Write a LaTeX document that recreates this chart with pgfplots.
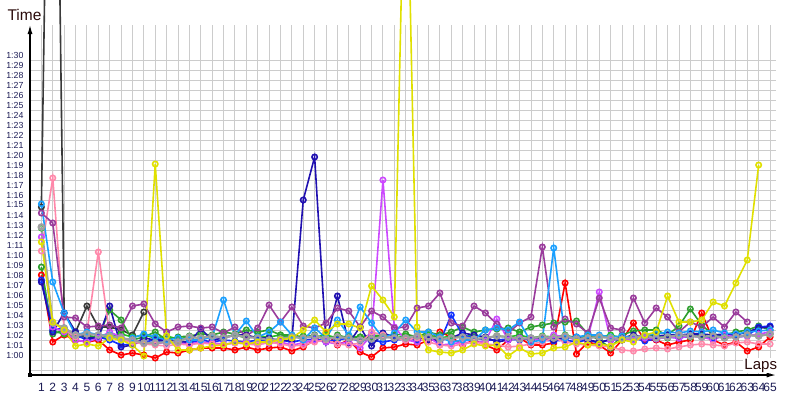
\documentclass[border=0pt]{standalone}
\usepackage{pgfplots}
\pgfplotsset{compat=1.18}
\usepackage{pgfplotstable}
\usepackage{fontspec}
\setmainfont{Liberation Sans}
\usetikzlibrary{arrows.meta}
\definecolor{cred}{HTML}{FF0000}
\definecolor{cnavy}{HTML}{2010B0}
\definecolor{cblue}{HTML}{1030FF}
\definecolor{clblue}{HTML}{1AA0FF}
\definecolor{cyellow}{HTML}{E0E000}
\definecolor{cgreen}{HTML}{2F9F2F}
\definecolor{cgreenb}{HTML}{22C022}
\definecolor{cpurple}{HTML}{9A3C9C}
\definecolor{cviolet}{HTML}{CC48FF}
\definecolor{cpink}{HTML}{FF88AA}
\definecolor{cgray}{HTML}{A0A0A0}
\definecolor{cblack}{HTML}{3A3A3A}
\definecolor{ctick}{HTML}{1C1C55}
\definecolor{ctitle}{HTML}{2A0A0A}
\pgfplotstableread{
lap red navy blue lblue yellow green greenb purple violet pink gray black
1 68.5 67.8 68.0 75.6 71.8 69.3 73.2 74.7 72.3 70.9 73.3 75.3
2 61.8 62.8 63.0 67.8 63.8 62.6 62.9 73.7 63.3 78.2 63.7 150
3 62.5 64.7 63.2 64.7 63.0 63.0 62.6 64.3 62.8 63.0 63.2 64.7
4 62.0 62.8 62.5 62.5 61.4 62.2 62.3 64.2 62.0 62.3 62.5 62.8
5 61.8 62.2 62.0 62.8 61.6 62.4 62.5 63.3 61.8 62.8 62.6 65.4
6 62.0 62.2 62.3 62.5 61.4 62.3 62.2 63.4 62.2 70.8 62.5 63.3
7 61.0 65.4 62.0 62.5 62.2 65.0 62.4 63.5 62.8 62.5 62.4 63.3
8 60.5 61.3 61.5 62.0 62.0 64.0 62.6 63.2 62.3 62.0 62.2 63.0
9 60.7 61.5 61.6 62.2 61.5 62.0 62.3 65.4 61.8 61.8 62.0 62.5
10 60.5 62.2 61.8 62.6 60.4 62.3 62.5 65.6 61.7 61.6 61.7 64.8
11 60.2 62.0 62.0 62.3 79.6 62.8 62.2 63.6 61.6 61.5 61.7 nan
12 60.8 62.0 61.7 62.0 62.4 62.0 62.4 62.8 61.8 61.4 61.8 nan
13 60.7 61.8 61.8 62.2 61.0 62.3 62.1 63.3 61.7 61.6 61.8 nan
14 61.0 61.8 61.7 62.0 61.0 62.4 62.3 63.4 61.6 61.5 62.3 nan
15 61.2 63.1 62.0 62.0 61.2 62.6 62.2 63.2 61.8 61.7 62.2 nan
16 61.2 62.0 61.8 62.3 61.4 62.5 62.4 63.3 61.7 61.6 62.4 nan
17 61.2 62.2 62.0 66.0 61.5 62.8 62.3 62.7 61.6 61.5 62.2 nan
18 61.0 62.5 61.9 62.5 61.8 62.6 62.5 63.3 61.7 61.7 62.5 nan
19 61.3 62.5 61.8 63.9 61.6 63.0 62.2 62.4 61.8 61.6 62.3 nan
20 61.0 62.2 62.0 62.3 61.8 62.8 62.4 63.2 61.6 61.5 62.2 nan
21 61.2 62.2 61.9 62.8 61.8 63.0 62.3 65.5 61.7 61.8 62.0 nan
22 61.3 61.9 62.0 63.8 62.0 62.5 62.5 63.8 61.8 61.6 62.1 nan
23 60.9 62.0 61.8 62.5 62.2 62.5 62.2 65.3 61.5 61.4 62.3 nan
24 61.3 76.0 62.0 62.0 63.0 62.3 62.4 63.4 61.7 61.5 62.2 nan
25 62.0 80.3 62.1 63.2 64.0 62.5 62.3 63.2 62.0 61.8 62.4 nan
26 62.7 61.8 61.9 62.2 62.8 62.0 62.5 63.7 61.8 62.0 62.1 nan
27 61.5 66.4 62.0 64.0 63.6 62.5 62.2 65.2 61.6 61.6 62.3 nan
28 62.0 61.7 62.2 62.5 63.6 62.2 62.4 64.9 61.8 61.5 62.2 nan
29 60.8 63.3 61.9 65.3 63.2 62.3 62.3 63.3 61.2 61.7 62.0 nan
30 60.3 61.4 62.0 63.7 67.4 62.3 62.5 64.9 62.5 62.8 62.1 nan
31 61.2 62.7 61.8 62.2 66.0 62.5 62.4 64.3 78.0 62.5 62.3 nan
32 61.3 62.3 62.0 62.7 64.3 62.5 62.2 63.2 63.3 62.2 62.2 nan
33 61.6 62.0 62.1 64.0 117 62.6 62.4 63.3 62.0 62.0 62.2 nan
34 61.5 62.2 62.0 62.8 63.3 62.3 62.3 65.2 61.8 62.2 62.4 nan
35 62.0 62.0 62.2 62.8 61.0 62.8 62.5 65.4 62.3 61.8 62.3 nan
36 62.8 62.0 61.8 62.3 60.8 62.5 62.2 66.7 61.5 61.5 62.1 nan
37 62.3 62.2 64.5 61.8 60.7 62.8 62.4 63.7 61.6 61.4 62.2 nan
38 61.5 62.7 62.5 62.0 61.0 63.3 62.3 63.4 61.8 61.6 62.3 nan
39 62.0 62.5 62.2 62.0 61.6 62.8 62.5 65.4 61.7 61.8 62.1 nan
40 61.5 62.3 62.0 63.0 61.4 63.0 62.2 64.7 61.9 61.6 62.2 nan
41 61.0 61.8 62.0 63.2 61.5 63.1 62.4 63.6 64.1 61.5 62.4 nan
42 62.0 62.0 62.1 63.0 60.4 63.2 62.3 62.7 62.0 61.3 62.3 nan
43 62.2 62.2 62.0 63.8 61.2 62.8 62.5 63.7 62.2 61.4 62.1 nan
44 61.5 62.0 62.2 61.8 60.6 63.3 62.2 64.3 62.1 61.6 62.2 nan
45 61.5 62.2 62.0 62.0 60.7 63.5 62.4 71.3 62.0 61.8 62.3 nan
46 61.7 62.0 61.9 71.2 61.2 63.7 62.3 63.3 62.5 62.2 62.2 nan
47 67.7 62.2 62.0 62.2 61.3 63.8 62.5 64.1 62.3 61.8 62.4 nan
48 60.6 62.3 61.8 62.3 61.8 63.9 62.2 63.6 62.0 61.6 62.1 nan
49 61.8 62.0 62.0 62.5 61.5 62.6 62.4 62.7 62.2 61.5 62.2 nan
50 61.5 61.8 61.7 62.5 61.6 62.0 62.3 66.2 66.8 61.4 62.3 nan
51 60.7 62.0 62.1 62.3 61.4 61.2 62.5 63.2 62.0 61.3 62.2 nan
52 62.0 62.2 62.0 62.4 62.0 62.5 62.2 63.0 62.1 61.0 62.1 nan
53 63.7 62.5 62.2 62.2 61.8 62.9 62.4 66.2 62.0 60.9 62.3 nan
54 62.0 62.3 61.9 62.5 62.5 63.0 62.3 63.7 62.2 61.1 62.4 nan
55 62.0 62.4 62.1 62.6 62.8 63.0 62.5 65.2 62.1 61.2 62.2 nan
56 61.5 62.5 62.3 62.8 66.4 62.5 62.2 64.3 62.3 61.1 62.3 nan
57 61.8 62.5 62.2 62.7 63.8 63.4 62.4 62.8 62.2 61.3 62.5 nan
58 62.0 62.6 62.4 62.9 63.8 65.1 62.3 63.8 62.4 61.5 62.4 nan
59 64.7 62.6 62.3 62.8 64.0 63.5 62.5 63.3 62.3 61.6 62.3 nan
60 62.0 62.5 62.2 63.0 65.8 62.5 62.2 64.3 62.0 61.5 62.4 nan
61 61.5 62.6 62.5 62.7 65.4 62.5 62.4 63.3 62.5 61.4 62.2 nan
62 61.8 62.5 62.3 62.6 67.7 62.8 62.3 64.8 62.3 61.7 62.3 nan
63 60.9 62.8 62.4 62.8 70.0 63.0 62.5 63.8 62.4 61.8 62.5 nan
64 61.3 63.2 63.3 62.9 79.5 63.4 62.4 nan 62.6 61.6 62.4 nan
65 62.3 63.3 63.4 63.0 nan 63.0 62.6 nan 62.8 61.6 62.6 nan
}\laps
\begin{document}
\begin{tikzpicture}
\begin{axis}[
  x=11.385pt, y=10pt,
  xmin=0, xmax=65.5, ymin=58.5, ymax=93.5,
  axis lines=left,
  axis line style={line width=1.1pt, -{Latex[length=9pt,width=5pt]}},
  grid=major,
  grid style={draw=black!20, line width=0.9pt},
  xtick={1,...,65},
  ytick={59,...,90},
  yticklabels={,1:00,1:01,1:02,1:03,1:04,1:05,1:06,1:07,1:08,1:09,1:10,1:11,1:12,1:13,1:14,1:15,1:16,1:17,1:18,1:19,1:20,1:21,1:22,1:23,1:24,1:25,1:26,1:27,1:28,1:29,1:30},
  major tick length=0pt,
  clip=false,
  /pgf/number format/assume math mode=true,
  xticklabel style={font=\fontsize{12}{12}\selectfont, text=ctick, anchor=base, yshift=-16.5pt, inner sep=0pt},
  yticklabel style={font=\fontsize{8.8}{9}\selectfont, text=ctick, anchor=east, yshift=5pt, xshift=-3pt},
  every axis plot/.append style={line width=1.6pt, mark=o, mark size=2.7pt,
     mark options={solid, fill=white, line width=0.9pt}},
]
\addplot[color=cblack, mark options={fill=white}] table[x=lap, y=black] {\laps};
\addplot[color=cred, mark options={fill=white}] table[x=lap, y=red] {\laps};
\addplot[color=cgreenb, mark options={fill=white}] table[x=lap, y=greenb] {\laps};
\addplot[color=cgreen, mark options={fill=white}] table[x=lap, y=green] {\laps};
\addplot[color=cblue, mark options={fill=white}] table[x=lap, y=blue] {\laps};
\addplot[color=cnavy, mark options={fill=white}] table[x=lap, y=navy] {\laps};
\addplot[color=cviolet, mark options={fill=white}] table[x=lap, y=violet] {\laps};
\addplot[color=cpink, mark options={fill=white}] table[x=lap, y=pink] {\laps};
\addplot[color=cpurple, mark options={fill=white}] table[x=lap, y=purple] {\laps};
\addplot[color=clblue, mark options={fill=white}] table[x=lap, y=lblue] {\laps};
\addplot[color=cgray, line width=2.2pt, mark options={fill=white}] table[x=lap, y=gray] {\laps};
\addplot[color=cyellow, mark options={fill=white}] table[x=lap, y=yellow] {\laps};
\node[anchor=base west, inner sep=0pt, text=ctitle, font=\fontsize{15.5}{16}\selectfont] at (axis cs:-1.99,93.93) {Time};
\node[anchor=base west, inner sep=1pt, fill=white, text=ctitle, font=\fontsize{15}{16}\selectfont] at (axis cs:62.65,59.07) {Laps};
\fill[black] (axis cs:-0.15,58.33) rectangle (axis cs:0.15,58.67);
\coordinate (bbl) at (axis cs:-2.635,56.0);
\coordinate (btr) at (axis cs:67.632,96.0);
\end{axis}
\pgfresetboundingbox
\path[use as bounding box] (bbl) rectangle (btr);
\end{tikzpicture}
\end{document}
